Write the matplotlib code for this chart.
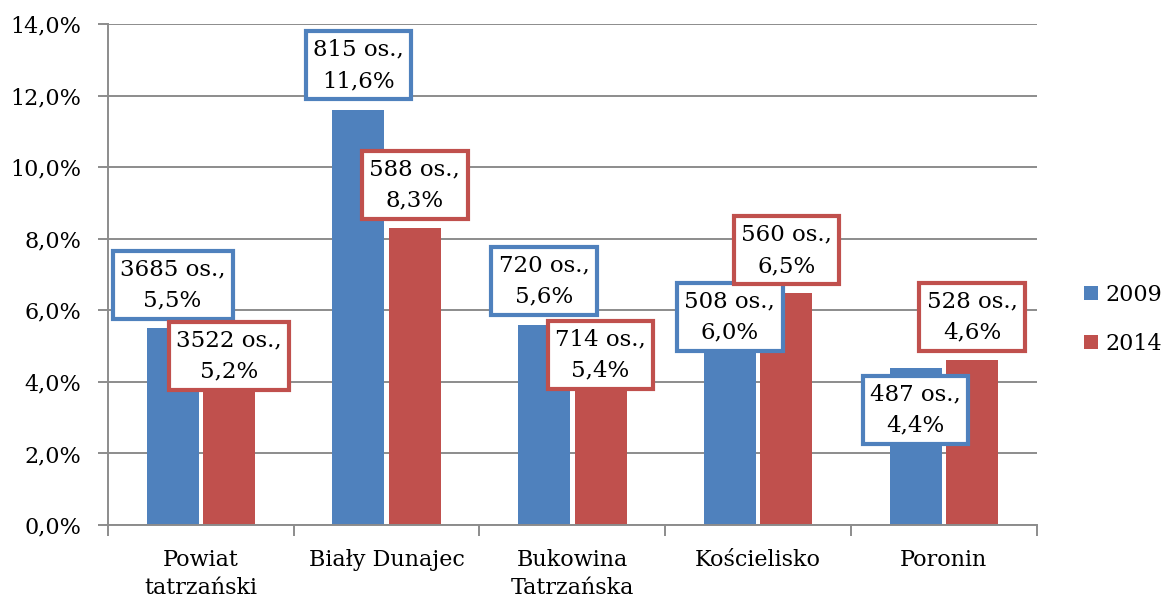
import matplotlib
matplotlib.use("Agg")
import matplotlib.pyplot as plt
from matplotlib.ticker import FuncFormatter
import numpy as np

categories = ["Powiat\ntatrzański", "Biały Dunajec", "Bukowina\nTatrzańska", "Kościelisko", "Poronin"]
series_names = ["2009", "2014"]
pct_2009 = [5.5, 11.6, 5.6, 6.0, 4.4]
pct_2014 = [5.2, 8.3, 5.4, 6.5, 4.6]
people_2009 = [3685, 815, 720, 508, 487]
people_2014 = [3522, 588, 714, 560, 528]

# label box centres (layout, in axis units)
label_y_2009 = [6.71, 12.85, 6.82, 5.81, 3.21]
label_y_2014 = [4.72, 9.50, 4.75, 7.68, 5.81]

blue = "#4F81BD"
red = "#C0504D"
grid_c = "#8C8C8C"

plt.rcParams['font.family'] = ['DejaVu Serif']

fig = plt.figure(figsize=(11.71, 5.99), dpi=100)
ax = fig.add_axes([0.0922, 0.1235, 0.8931 - 0.0922 - 0.0078, 0.836])

x = np.arange(len(categories))
w = 0.28
gap = 0.012
b1 = ax.bar(x - w / 2 - gap, pct_2009, width=w, color=blue, label=series_names[0], zorder=2)
b2 = ax.bar(x + w / 2 + gap, pct_2014, width=w, color=red, label=series_names[1], zorder=2)

ax.set_xlim(-0.5, len(categories) - 0.5)
ax.set_ylim(0, 14)
ax.set_yticks(np.arange(0, 14.1, 2))
ax.yaxis.set_major_formatter(FuncFormatter(lambda v, p: f"{v:.1f}%".replace(".", ",")))
ax.grid(axis='y', color=grid_c, linewidth=1.4, zorder=0)
ax.set_axisbelow(True)

for s in ["top", "right"]:
    ax.spines[s].set_visible(False)
for s in ["left", "bottom"]:
    ax.spines[s].set_color(grid_c)
    ax.spines[s].set_linewidth(1.4)

ax.set_xticks(np.arange(-0.5, len(categories), 1.0))
ax.set_xticklabels([])
ax.set_xticks(x, minor=True)
ax.set_xticklabels(categories, minor=True, fontsize=16, linespacing=1.4)
ax.tick_params(axis='x', which='major', length=8, color=grid_c, width=1.4)
ax.tick_params(axis='x', which='minor', length=0, pad=17)
ax.tick_params(axis='y', length=7, color=grid_c, width=1.4, labelsize=16, pad=12)

for i in range(len(categories)):
    for xs, yl, pct, ppl, col in [
        (x[i] - w / 2 - gap, label_y_2009[i], pct_2009[i], people_2009[i], blue),
        (x[i] + w / 2 + gap, label_y_2014[i], pct_2014[i], people_2014[i], red),
    ]:
        txt = f"{ppl} os.,\n" + f"{pct:.1f}%".replace(".", ",")
        ax.text(xs, yl, txt, ha='center', va='center', fontsize=16.5, linespacing=1.55,
                zorder=5,
                bbox=dict(boxstyle='square,pad=0.32', facecolor='white', edgecolor=col, linewidth=3.0))

leg = fig.legend(handles=[b1, b2], labels=series_names, loc='center left',
                 bbox_to_anchor=(0.909, 0.467), frameon=False, fontsize=16,
                 handlelength=0.6, handleheight=0.6, handletextpad=0.35, labelspacing=1.2)

fig.savefig("out.png", dpi=100)
